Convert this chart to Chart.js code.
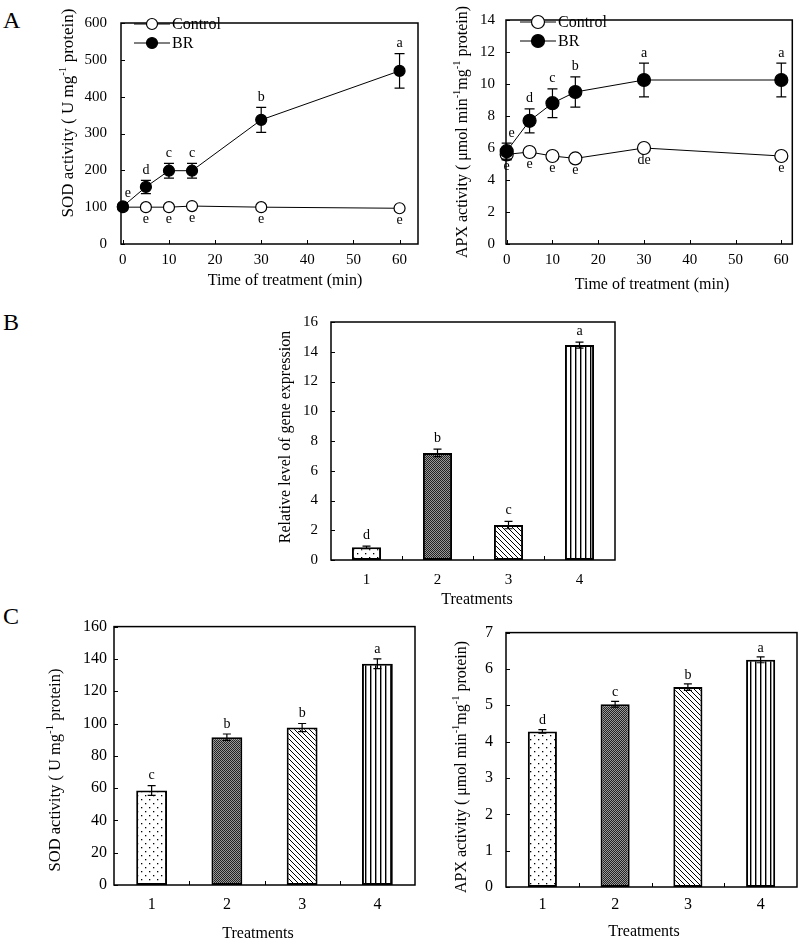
<!DOCTYPE html>
<html>
<head>
<meta charset="utf-8">
<script src="https://cdn.jsdelivr.net/npm/chart.js@4"></script>
<style>
    body { margin: 0; background: #fff; width: 800px; height: 938px; position: relative; overflow: hidden; font-family: "Liberation Serif", serif; }
    canvas { position: absolute; }
    .tag { position: absolute; font-size: 24px; line-height: 24px; color: #000; }
</style>
</head>
<body>
<div class="tag" style="left:3px; top:8px">A</div>
<div class="tag" style="left:3px; top:310px">B</div>
<div class="tag" style="left:3px; top:604px">C</div>
<canvas id="sodTime"></canvas>
<canvas id="apxTime"></canvas>
<canvas id="geneChart"></canvas>
<canvas id="sodBars"></canvas>
<canvas id="apxBars"></canvas>
<script>
// Panel A: time course (min)
const timePoints = [0, 5, 10, 15, 30, 60];
const timeTicks = [0, 10, 20, 30, 40, 50, 60];

const sodControl = [100, 100, 100, 103, 100, 97];
const sodBR = [102, 155, 199, 199, 337, 470];
const sodBRErr = [8, 18, 20, 20, 34, 47];
const sodControlLetters = ['', 'e', 'e', 'e', 'e', 'e'];
const sodBRLetters = ['e', 'd', 'c', 'c', 'b', 'a'];
const sodTicks = [0, 100, 200, 300, 400, 500, 600];

const apxControl = [5.6, 5.75, 5.5, 5.35, 6.0, 5.5];
const apxControlErr = [0.35, 0, 0, 0, 0, 0];
const apxBR = [5.8, 7.7, 8.8, 9.5, 10.25, 10.25];
const apxBRErr = [0.5, 0.75, 0.9, 0.95, 1.05, 1.05];
const apxControlLetters = ['e', 'e', 'e', 'e', 'de', 'e'];
const apxBRLetters = ['e', 'd', 'c', 'b', 'a', 'a'];
const apxTicks = [0, 2, 4, 6, 8, 10, 12, 14];

// Panels B and C: treatments 1-4
const treatments = ['1', '2', '3', '4'];
const geneLevel = [0.85, 7.2, 2.35, 14.45];
const geneErr = [0.08, 0.25, 0.25, 0.2];
const geneLetters = ['d', 'b', 'c', 'a'];
const geneTicks = [0, 2, 4, 6, 8, 10, 12, 14, 16];

const sodTreat = [58.5, 91.5, 97.5, 137];
const sodTreatErr = [3, 2, 2.5, 3];
const sodTreatLetters = ['c', 'b', 'b', 'a'];
const sodTreatTicks = [0, 20, 40, 60, 80, 100, 120, 140, 160];

const apxTreat = [4.28, 5.03, 5.5, 6.25];
const apxTreatErr = [0.05, 0.08, 0.09, 0.08];
const apxTreatLetters = ['d', 'c', 'b', 'a'];
const apxTreatTicks = [0, 1, 2, 3, 4, 5, 6, 7];

const FONT = '"Liberation Serif"';

// fill patterns for the four treatment bars
function makePattern(w, h, paint) {
    const c = document.createElement('canvas');
    c.width = w; c.height = h;
    const g = c.getContext('2d');
    g.fillStyle = '#fff';
    g.fillRect(0, 0, w, h);
    g.fillStyle = '#000';
    g.strokeStyle = '#000';
    paint(g);
    return document.createElement('canvas').getContext('2d').createPattern(c, 'repeat');
}
const dots = makePattern(8, 8, g => { g.fillRect(1, 1, 1.3, 1.3); g.fillRect(5, 5, 1.3, 1.3); });
const dark = makePattern(2, 2, g => {
    g.fillStyle = '#999'; g.fillRect(0, 0, 2, 2);
    g.fillStyle = '#222'; g.fillRect(0, 0, 1, 1); g.fillRect(1, 1, 1, 1);
});
const hatch = makePattern(5, 5, g => {
    g.lineWidth = 1;
    g.beginPath();
    g.moveTo(-1, -1); g.lineTo(6, 6);
    g.moveTo(-1, 4); g.lineTo(1, 6);
    g.moveTo(4, -1); g.lineTo(6, 1);
    g.stroke();
});
const stripes = makePattern(5, 4, g => { g.fillRect(0, 0, 1.4, 4); });
const barFills = [dots, dark, hatch, stripes];

// text with superscripts, optionally rotated
function richWidth(ctx, parts, size) {
    let w = 0;
    parts.forEach(p => {
        ctx.font = (p.sup ? size * 0.65 : size) + 'px ' + FONT;
        w += ctx.measureText(p.t).width;
    });
    return w;
}
function drawRich(ctx, parts, size, cx, cy, rotate) {
    ctx.save();
    ctx.translate(cx, cy);
    if (rotate) ctx.rotate(-Math.PI / 2);
    let x = -richWidth(ctx, parts, size) / 2;
    ctx.textAlign = 'left';
    ctx.textBaseline = 'alphabetic';
    parts.forEach(p => {
        const s = p.sup ? size * 0.65 : size;
        ctx.font = s + 'px ' + FONT;
        ctx.fillText(p.t, x, size * 0.35 - (p.sup ? size * 0.4 : 0));
        x += ctx.measureText(p.t).width;
    });
    ctx.restore();
}

function valueOf(raw) {
    return (raw !== null && typeof raw === 'object') ? raw.y : raw;
}

// frame, inward tick marks, error bars, letters, titles, legend
const deco = {
    id: 'deco',
    afterDraw(chart, args, o) {
        const ctx = chart.ctx, a = chart.chartArea;
        const xs = chart.scales.x, ys = chart.scales.y;
        ctx.save();
        ctx.strokeStyle = '#000';
        ctx.fillStyle = '#000';

        ctx.lineWidth = 1.5;
        ctx.strokeRect(a.left, a.top, a.right - a.left, a.bottom - a.top);

        ctx.lineWidth = 1;
        ctx.beginPath();
        (o.xMarks || []).forEach(v => {
            const x = Math.round(xs.getPixelForValue(v)) + 0.5;
            ctx.moveTo(x, a.bottom); ctx.lineTo(x, a.bottom - 4);
        });
        (o.yMarks || []).forEach(v => {
            const y = Math.round(ys.getPixelForValue(v)) + 0.5;
            ctx.moveTo(a.left, y); ctx.lineTo(a.left + 4, y);
        });
        ctx.stroke();

        // error bars
        ctx.lineWidth = 1.2;
        (o.errors || []).forEach(e => {
            const meta = chart.getDatasetMeta(e.ds);
            meta.data.forEach((el, i) => {
                const err = e.values[i];
                if (!err) return;
                const v = valueOf(chart.data.datasets[e.ds].data[i]);
                const y1 = ys.getPixelForValue(v + err), y2 = ys.getPixelForValue(v - err);
                ctx.beginPath();
                ctx.moveTo(el.x, y1); ctx.lineTo(el.x, y2);
                ctx.moveTo(el.x - e.cap, y1); ctx.lineTo(el.x + e.cap, y1);
                ctx.moveTo(el.x - e.cap, y2); ctx.lineTo(el.x + e.cap, y2);
                ctx.stroke();
            });
        });

        // significance letters
        ctx.font = '14px ' + FONT;
        ctx.textAlign = 'center';
        ctx.textBaseline = 'middle';
        (o.letters || []).forEach(L => {
            const meta = chart.getDatasetMeta(L.ds);
            meta.data.forEach((el, i) => {
                const txt = L.values[i];
                if (!txt) return;
                const v = valueOf(chart.data.datasets[L.ds].data[i]);
                let y;
                if (L.below) {
                    y = ys.getPixelForValue(v) + L.gap;
                } else {
                    y = ys.getPixelForValue(v + (L.err ? L.err[i] : 0)) - L.gap;
                }
                // first letter nudged right, off the axis
                const x = el.x + (i === 0 && L.nudgeFirst ? 5 : 0);
                ctx.fillText(txt, x, y);
            });
        });

        // legend inside the plot
        if (o.legend) {
            const [lx, ly, dy] = o.legend;
            chart.data.datasets.forEach((d, i) => {
                const y = ly + i * dy;
                ctx.lineWidth = 1;
                ctx.beginPath();
                ctx.moveTo(lx, y); ctx.lineTo(lx + 36, y);
                ctx.stroke();
                ctx.beginPath();
                ctx.arc(lx + 18, y, d.pointRadius, 0, Math.PI * 2);
                ctx.fillStyle = d.pointBackgroundColor;
                ctx.fill();
                ctx.lineWidth = d.pointBorderWidth;
                ctx.stroke();
                ctx.fillStyle = '#000';
                ctx.font = '16px ' + FONT;
                ctx.textAlign = 'left';
                ctx.fillText(d.label, lx + 38, y + 1);
            });
        }

        ctx.fillStyle = '#000';
        if (o.yTitle) drawRich(ctx, o.yTitle, o.yTitleSize, o.yTitlePos[0], o.yTitlePos[1], true);
        if (o.xTitle) drawRich(ctx, [{ t: o.xTitle }], o.xTitleSize, o.xTitlePos[0], o.xTitlePos[1], false);
        ctx.restore();
    }
};

function panel(id, box, area) {
    const cv = document.getElementById(id);
    cv.width = box.w; cv.height = box.h;
    cv.style.left = box.left + 'px';
    cv.style.top = box.top + 'px';
    return {
        ctx: cv.getContext('2d'),
        padding: { top: area.t - box.top, right: box.left + box.w - area.r, left: 0, bottom: 0 },
        yFit: s => { s.width = area.l - box.left; },
        xFit: s => { s.height = box.top + box.h - area.b; },
        at: (x, y) => [x - box.left, y - box.top]
    };
}

function xy(xs, ys) {
    return xs.map((x, i) => ({ x: x, y: ys[i] }));
}

// order: lower is drawn on top, so BR (order 0) covers Control at t = 0
function lineSet(label, data, fill, r, order) {
    return {
        label: label, data: data, clip: false, order: order,
        borderColor: '#000', borderWidth: 1,
        pointRadius: r, pointBackgroundColor: fill,
        pointBorderColor: '#000', pointBorderWidth: 1.2
    };
}

function axis(fit, ticks, pad, size, extra) {
    return Object.assign({
        grid: { display: false, drawTicks: false },
        border: { display: false },
        afterBuildTicks: s => { s.ticks = ticks.map(v => ({ value: v })); },
        afterFit: fit,
        ticks: { font: { family: FONT, size: size }, color: '#000', padding: pad, autoSkip: false, maxRotation: 0 }
    }, extra);
}

function timeChart(id, box, area, opts) {
    const p = panel(id, box, area);
    return new Chart(p.ctx, {
        type: 'line',
        data: {
            datasets: [
                lineSet('Control', xy(timePoints, opts.control), '#fff', opts.r, 1),
                lineSet('BR', xy(timePoints, opts.br), '#000', opts.r, 0)
            ]
        },
        options: {
            responsive: false, animation: false, events: [],
            layout: { padding: p.padding },
            plugins: {
                legend: { display: false }, tooltip: { enabled: false },
                deco: {
                    xMarks: timeTicks, yMarks: opts.yTicks,
                    errors: [
                        { ds: 0, values: opts.controlErr, cap: 5 },
                        { ds: 1, values: opts.brErr, cap: 5 }
                    ],
                    letters: [
                        { ds: 0, values: opts.controlLetters, below: true, gap: 12 },
                        { ds: 1, values: opts.brLetters, err: opts.brErr, gap: 10, nudgeFirst: true }
                    ],
                    legend: p.at(opts.legend[0], opts.legend[1]).concat([19]),
                    yTitle: opts.yTitle, yTitleSize: opts.yTitleSize,
                    yTitlePos: p.at(opts.yTitlePos[0], opts.yTitlePos[1]),
                    xTitle: 'Time of treatment (min)', xTitleSize: 16,
                    xTitlePos: p.at(opts.xTitlePos[0], opts.xTitlePos[1])
                }
            },
            scales: {
                x: axis(p.xFit, timeTicks, 7, 15, { type: 'linear', min: opts.xMin, max: opts.xMax }),
                y: axis(p.yFit, opts.yTicks, opts.yPad, 15, { min: 0, max: opts.yTicks[opts.yTicks.length - 1] })
            }
        },
        plugins: [deco]
    });
}

function barChart(id, box, area, opts) {
    const p = panel(id, box, area);
    return new Chart(p.ctx, {
        type: 'bar',
        data: {
            labels: treatments,
            datasets: [{
                data: opts.values,
                backgroundColor: barFills,
                borderColor: '#000', borderWidth: 2, borderSkipped: false,
                barPercentage: opts.barPct, categoryPercentage: 1
            }]
        },
        options: {
            responsive: false, animation: false, events: [],
            layout: { padding: p.padding },
            plugins: {
                legend: { display: false }, tooltip: { enabled: false },
                deco: {
                    xMarks: [0.5, 1.5, 2.5], yMarks: opts.yTicks,
                    errors: [{ ds: 0, values: opts.err, cap: 4 }],
                    letters: [{ ds: 0, values: opts.letters, err: opts.err, gap: opts.letterGap }],
                    yTitle: opts.yTitle, yTitleSize: opts.yTitleSize,
                    yTitlePos: p.at(opts.yTitlePos[0], opts.yTitlePos[1]),
                    xTitle: 'Treatments', xTitleSize: 16,
                    xTitlePos: p.at(opts.xTitlePos[0], opts.xTitlePos[1])
                }
            },
            scales: {
                x: {
                    grid: { display: false, drawTicks: false },
                    border: { display: false },
                    afterFit: p.xFit,
                    ticks: { font: { family: FONT, size: opts.tickSize }, color: '#000', padding: opts.xPad }
                },
                y: axis(p.yFit, opts.yTicks, opts.yPad, opts.tickSize, { min: 0, max: opts.yTicks[opts.yTicks.length - 1] })
            }
        },
        plugins: [deco]
    });
}

timeChart('sodTime', { left: 0, top: 0, w: 425, h: 300 }, { l: 121, t: 9, r: 418, b: 244 }, {
    control: sodControl, br: sodBR, controlErr: [], brErr: sodBRErr,
    controlLetters: sodControlLetters, brLetters: sodBRLetters,
    yTicks: sodTicks, xMin: -0.4, xMax: 64, r: 5.5, yPad: 14,
    legend: [134, 24],
    yTitle: [{ t: 'SOD activity ( U mg' }, { t: '-1', sup: true }, { t: ' protein)' }],
    yTitleSize: 17, yTitlePos: [67, 113], xTitlePos: [285, 279]
});

timeChart('apxTime', { left: 425, top: 0, w: 375, h: 300 }, { l: 506, t: 9, r: 798, b: 244 }, {
    control: apxControl, br: apxBR, controlErr: apxControlErr, brErr: apxBRErr,
    controlLetters: apxControlLetters, brLetters: apxBRLetters,
    yTicks: apxTicks, xMin: -0.15, xMax: 62.4, r: 6.5, yPad: 11,
    legend: [520, 22],
    yTitle: [{ t: 'APX activity ( \u03bcmol min' }, { t: '-1', sup: true }, { t: 'mg' }, { t: '-1', sup: true }, { t: ' protein)' }],
    yTitleSize: 16, yTitlePos: [461, 132], xTitlePos: [652, 283]
});

barChart('geneChart', { left: 200, top: 300, w: 430, h: 310 }, { l: 331, t: 315, r: 615, b: 560 }, {
    values: geneLevel, err: geneErr, letters: geneLetters, letterGap: 11,
    yTicks: geneTicks, yPad: 13, xPad: 11, barPct: 0.41, tickSize: 15,
    yTitle: [{ t: 'Relative level of gene expression' }], yTitleSize: 16,
    yTitlePos: [284, 437], xTitlePos: [477, 598]
});

barChart('sodBars', { left: 0, top: 610, w: 425, h: 328 }, { l: 114, t: 625, r: 415, b: 885 }, {
    values: sodTreat, err: sodTreatErr, letters: sodTreatLetters, letterGap: 10,
    yTicks: sodTreatTicks, yPad: 7, xPad: 10, barPct: 0.41, tickSize: 16,
    yTitle: [{ t: 'SOD activity ( U mg' }, { t: '-1', sup: true }, { t: ' protein)' }], yTitleSize: 16.5,
    yTitlePos: [54, 770], xTitlePos: [258, 932]
});

barChart('apxBars', { left: 425, top: 610, w: 375, h: 328 }, { l: 506, t: 625, r: 797, b: 887 }, {
    values: apxTreat, err: apxTreatErr, letters: apxTreatLetters, letterGap: 9,
    yTicks: apxTreatTicks, yPad: 13, xPad: 8, barPct: 0.4, tickSize: 16,
    yTitle: [{ t: 'APX activity ( \u03bcmol min' }, { t: '-1', sup: true }, { t: 'mg' }, { t: '-1', sup: true }, { t: ' protein)' }], yTitleSize: 16,
    yTitlePos: [460, 767], xTitlePos: [644, 930]
});
</script>
</body>
</html>
